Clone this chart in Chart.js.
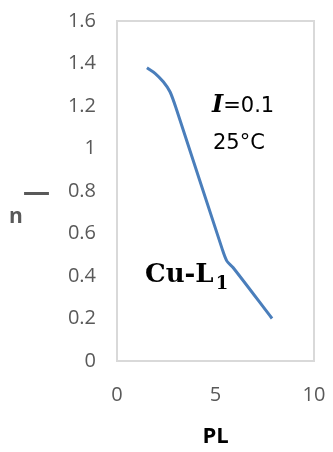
<!DOCTYPE html>
<html>
<head>
<meta charset="utf-8">
<script src="https://cdn.jsdelivr.net/npm/chart.js@4"></script>
<style>
    html, body { margin: 0; padding: 0; background: #fff; }
    #wrap { width: 333px; height: 452px; position: relative; }
</style>
</head>
<body>
<div id="wrap"><canvas id="plot"></canvas></div>
<script>
// values
var pl = [1.52, 1.93, 2.35, 2.69, 3.03, 5.33, 5.58, 5.89, 7.87];
var nbar = [1.38, 1.354, 1.314, 1.267, 1.181, 0.53, 0.47, 0.44, 0.20];
var xTicks = [0, 5, 10];
var yTicks = [0, 0.2, 0.4, 0.6, 0.8, 1, 1.2, 1.4, 1.6];

var tickFont = {family: "'Open Sans', sans-serif", size: 20};

// plot frame + free text labels
var extras = {
    id: "extras",
    beforeDatasetsDraw: function(chart) {
        var a = chart.chartArea, ctx = chart.ctx;
        ctx.save();
        ctx.strokeStyle = "#d9d9d9";
        ctx.lineWidth = 2;
        ctx.strokeRect(a.left, a.top, a.right - a.left, a.bottom - a.top);
        ctx.restore();
    },
    afterDraw: function(chart) {
        var ctx = chart.ctx, x = chart.scales.x, y = chart.scales.y;
        ctx.save();
        ctx.textBaseline = "alphabetic";
        ctx.textAlign = "left";

        // y axis title: n with bar
        ctx.fillStyle = "#595959";
        ctx.font = "bold 21px 'Open Sans', sans-serif";
        ctx.fillText("n", 9, 223);
        ctx.font = "bold 27px 'Open Sans', sans-serif";
        ctx.fillText("\u2014", 23, 201);

        // I=0.1
        var px = x.getPixelForValue(4.82), py = y.getPixelForValue(1.17);
        ctx.fillStyle = "#000";
        ctx.font = "italic bold 24px 'DejaVu Serif', serif";
        ctx.fillText("I", px, py);
        var w = ctx.measureText("I").width;
        ctx.font = "21px 'DejaVu Sans', sans-serif";
        ctx.fillText("=0.1", px + w, py);
        ctx.fillText("25\u00b0C", px + 1, y.getPixelForValue(1.0));

        // Cu-L1
        px = x.getPixelForValue(1.42);
        py = y.getPixelForValue(0.37);
        ctx.font = "bold 26px 'DejaVu Serif', serif";
        ctx.fillText("Cu-L", px, py);
        w = ctx.measureText("Cu-L").width;
        ctx.font = "bold 18px 'DejaVu Serif', serif";
        ctx.fillText("1", px + w + 2, py + 7);
        ctx.restore();
    }
};

var chart;
function createChart(canvas) {
    chart = new Chart(canvas, {
        type: "scatter",
        data: {
            datasets: [{
                data: pl.map((v, i) => { return {x: v, y: nbar[i]}; }),
                showLine: true,
                borderColor: "#4a7ebb",
                borderWidth: 3,
                pointRadius: 0,
                tension: 0.3,
                fill: false,
            }]
        },
        options: {
            responsive: true,
            maintainAspectRatio: false,
            animation: false,
            layout: {padding: {left: 0, right: 19, top: 21, bottom: 0}},
            plugins: {legend: {display: false}, tooltip: {enabled: false}},
            scales: {
                x: {
                    type: "linear",
                    min: 0, max: 10,
                    afterBuildTicks: function(s) { s.ticks = xTicks.map(v => ({value: v})); },
                    grid: {display: false, drawTicks: false},
                    border: {display: false},
                    ticks: {font: tickFont, color: "#595959", padding: 22, maxRotation: 0},
                    title: {
                        display: true, text: "PL", color: "#000",
                        font: {family: "'Open Sans', sans-serif", size: 22, weight: "bold"},
                        padding: {top: 0, bottom: 2}
                    },
                    afterFit: function(s) {
                        s.height = 91;
                        s.paddingLeft = 0;
                        s.paddingRight = 0;
                    }
                },
                y: {
                    type: "linear",
                    min: 0, max: 1.6,
                    afterBuildTicks: function(s) { s.ticks = yTicks.map(v => ({value: v})); },
                    grid: {display: false, drawTicks: false},
                    border: {display: false},
                    ticks: {
                        font: tickFont, color: "#595959", padding: 21,
                        callback: function(v) { return String(+v.toFixed(1)); }
                    },
                    afterFit: function(s) {
                        s.width = 117;
                        s.paddingTop = 0;
                        s.paddingBottom = 0;
                    }
                }
            }
        },
        plugins: [extras]
    });
}

createChart(document.getElementById("plot"));
</script>
</body>
</html>
